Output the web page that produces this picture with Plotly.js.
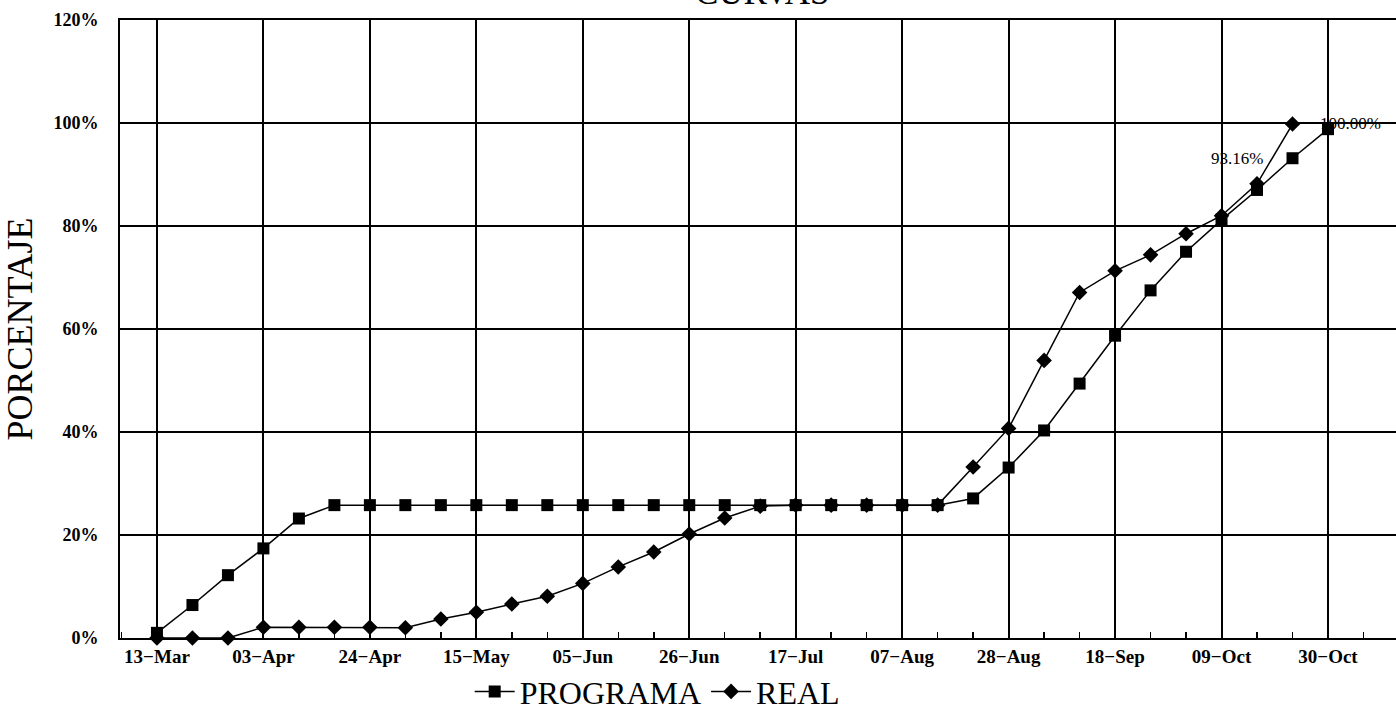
<!DOCTYPE html>
<html>
<head>
<meta charset="utf-8">
<script src="https://cdn.plot.ly/plotly-3.0.1.min.js"></script>
<style>html,body{margin:0;padding:0;background:#fff}#chart{width:1396px;height:713px}</style>
</head>
<body>
<div id="chart"></div>
<script>
// Weekly dates (year arbitrary, weekly Mondays)
const weeks = ["2000-03-13","2000-03-20","2000-03-27","2000-04-03","2000-04-10","2000-04-17",
  "2000-04-24","2000-05-01","2000-05-08","2000-05-15","2000-05-22","2000-05-29","2000-06-05",
  "2000-06-12","2000-06-19","2000-06-26","2000-07-03","2000-07-10","2000-07-17","2000-07-24",
  "2000-07-31","2000-08-07","2000-08-14","2000-08-21","2000-08-28","2000-09-04","2000-09-11",
  "2000-09-18","2000-09-25","2000-10-02","2000-10-09","2000-10-16","2000-10-23","2000-10-30"];
const programa = [1.0,6.4,12.2,17.4,23.2,25.8,
  25.8,25.8,25.8,25.8,25.8,25.8,25.8,25.8,25.8,25.8,25.8,25.8,25.8,25.8,25.8,25.8,25.8,
  27.1,33.1,40.3,49.4,58.7,67.5,75.0,81.2,87.0,93.16,98.8];
const realWeeks = weeks.slice(0,33);
const real = [0,0,0,2.1,2.1,2.1,2.1,2.0,3.7,5.0,6.6,8.1,10.6,13.8,16.7,20.2,23.3,25.6,
  25.8,25.8,25.8,25.8,25.8,33.2,40.7,53.9,67.1,71.3,74.4,78.5,82.0,88.2,99.8];
const labelPoints = [
  {x: "2000-10-23", y: 93.16, text: "93.16%", xanchor: "right", xshift: -28},
  {x: "2000-10-30", y: 100, text: "100.00%", xanchor: "left", xshift: -10}
];
const serif = "'Liberation Serif', 'Times New Roman', serif";

const traces = [
  {x: weeks, y: programa, name: "PROGRAMA", type: "scatter", mode: "lines+markers", cliponaxis: false,
   line: {color: "#000", width: 1.5}, marker: {symbol: "square", size: 12, color: "#000"}},
  {x: realWeeks, y: real, name: "REAL", type: "scatter", mode: "lines+markers", cliponaxis: false,
   line: {color: "#000", width: 1.5}, marker: {symbol: "diamond", size: 12, color: "#000"}}
];

const layout = {
  width: 1396, height: 713,
  margin: {l: 120, r: 0, t: 20, b: 75, autoexpand: false},
  paper_bgcolor: "#fff", plot_bgcolor: "#fff",
  title: {text: "CURVAS", font: {family: serif, size: 35, color: "#000"},
          xref: "container", x: 0.546, xanchor: "center",
          yref: "container", y: 0.9944, yanchor: "bottom"},
  xaxis: {type: "date", range: ["2000-03-05 17:00", "2000-11-12 10:00"],
          tick0: "2000-03-13", dtick: 21*86400000, tickformat: "%d\u2212%b",
          showgrid: true, gridcolor: "#000", gridwidth: 2,
          showline: true, linecolor: "#000", linewidth: 2, mirror: true,
          ticks: "", zeroline: false,
          tickfont: {family: serif, size: 19, color: "#000", weight: "bold"},
          minor: {tick0: "2000-03-13", dtick: 7*86400000, ticks: "inside", ticklen: 6,
                  tickcolor: "#000", tickwidth: 1.5, showgrid: false}},
  yaxis: {range: [0, 120], dtick: 20, ticksuffix: "%",
          showgrid: true, gridcolor: "#000", gridwidth: 2,
          showline: true, linecolor: "#000", linewidth: 2, mirror: true,
          ticks: "", zeroline: false, ticklabelstandoff: 16,
          tickfont: {family: serif, size: 18, color: "#000", weight: "bold"},
          title: {text: "PORCENTAJE", font: {family: serif, size: 36, color: "#000"}, standoff: 16}},
  showlegend: true,
  legend: {orientation: "h", xref: "paper", x: 0.421, xanchor: "center",
           yref: "container", y: 0.03, yanchor: "middle",
           font: {family: serif, size: 32, color: "#000"}, bgcolor: "rgba(0,0,0,0)",
           itemwidth: 40},
  annotations: labelPoints.map(p => ({x: p.x, y: p.y, xref: "x", yref: "y", text: p.text,
           showarrow: false, xanchor: p.xanchor, yanchor: "middle", xshift: p.xshift,
           font: {family: serif, size: 17, color: "#000"}}))
};
Plotly.newPlot("chart", traces, layout, {displayModeBar: false, staticPlot: true});
</script>
</body>
</html>
